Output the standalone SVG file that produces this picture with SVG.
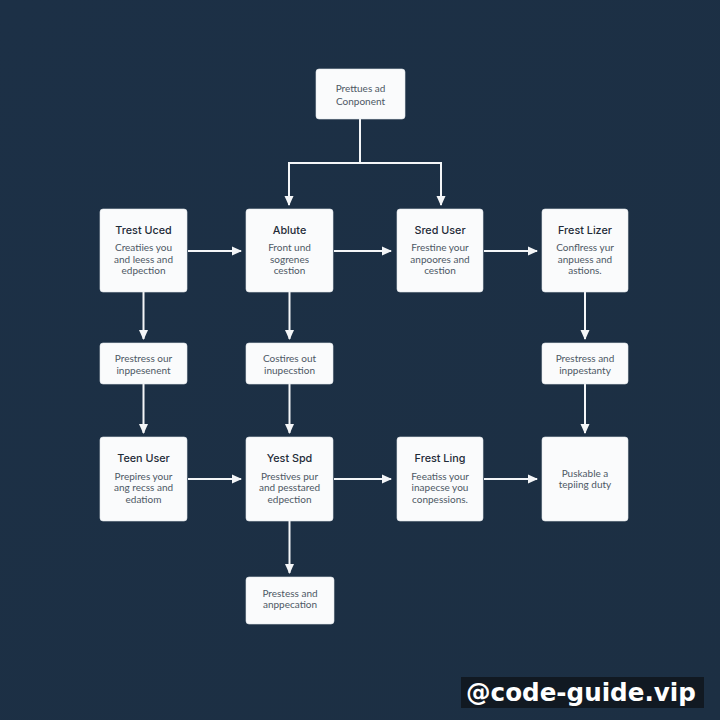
<svg xmlns="http://www.w3.org/2000/svg" width="720" height="720" viewBox="0 0 720 720">
<defs>
<linearGradient id="bg" x1="0" y1="0" x2="1" y2="1">
<stop offset="0" stop-color="#1c3046"/>
<stop offset="1" stop-color="#1c2f43"/>
</linearGradient>
<marker id="ah" markerUnits="userSpaceOnUse" markerWidth="10" markerHeight="10" viewBox="0 0 10 10" refX="9" refY="5" orient="auto">
<path d="M0,0.5 L10,5 L0,9.5 Z" fill="#f4f6f8"/>
</marker>
<style>
.box{fill:#fafbfc;stroke:#e3e7eb;stroke-width:0.6}
.t{font-family:Inter,Lato,"Liberation Sans",sans-serif;font-size:10.8px;font-weight:500;fill:#1f2b38;text-anchor:middle}
.b{font-family:Lato,"Open Sans","Liberation Sans",sans-serif;font-size:10px;fill:#4d5864;text-anchor:middle}
.c{fill:none;stroke:#f4f6f8;stroke-width:2;marker-end:url(#ah)}
.cl{fill:none;stroke:#f4f6f8;stroke-width:2}
.wm{font-family:"DejaVu Sans",sans-serif;font-weight:bold;font-size:24.6px;fill:#ffffff}
</style>
</defs>
<rect width="720" height="720" fill="url(#bg)"/>

<g id="connectors">
<path class="cl" d="M360,119 V163 M289,163 H442"/>
<path class="c" d="M289,162 V205"/>
<path class="c" d="M441,162 V205"/>
<path class="c" d="M188,251 H241"/>
<path class="c" d="M334,251 H391"/>
<path class="c" d="M484,251 H537"/>
<path class="c" d="M143.5,292 V339"/>
<path class="c" d="M289.5,292 V339"/>
<path class="c" d="M585,292 V339"/>
<path class="c" d="M143.5,384 V433"/>
<path class="c" d="M289.5,384 V433"/>
<path class="c" d="M585,384 V433"/>
<path class="c" d="M188,479 H241"/>
<path class="c" d="M334,479 H391"/>
<path class="c" d="M484,479 H537"/>
<path class="c" d="M289.5,521 V573"/>
</g>

<g id="n0">
<rect class="box" x="316" y="69" width="89" height="50" rx="3"/>
<text class="b" x="360.5" y="91.5">Prettues ad</text>
<text class="b" x="360.5" y="104.5">Conponent</text>
</g>

<g id="n1">
<rect class="box" x="100" y="209" width="87" height="83" rx="3"/>
<text class="t" x="143.5" y="234">Trest Uced</text>
<text class="b" x="143.5" y="250.5">Creatiies you</text>
<text class="b" x="143.5" y="262.5">and leess and</text>
<text class="b" x="143.5" y="274">edpection</text>
</g>

<g id="n2">
<rect class="box" x="246" y="209" width="87" height="83" rx="3"/>
<text class="t" x="289.5" y="234">Ablute</text>
<text class="b" x="289.5" y="250.5">Front und</text>
<text class="b" x="289.5" y="262.5">sogrenes</text>
<text class="b" x="289.5" y="274">cestion</text>
</g>

<g id="n3">
<rect class="box" x="397" y="209" width="86" height="83" rx="3"/>
<text class="t" x="440" y="234">Sred User</text>
<text class="b" x="440" y="250.5">Frestine your</text>
<text class="b" x="440" y="262.5">anpoores and</text>
<text class="b" x="440" y="274">cestion</text>
</g>

<g id="n4">
<rect class="box" x="542" y="209" width="86" height="83" rx="3"/>
<text class="t" x="585" y="234">Frest Lizer</text>
<text class="b" x="585" y="250.5">Conflress yur</text>
<text class="b" x="585" y="262.5">anpuess and</text>
<text class="b" x="585" y="274">astions.</text>
</g>

<g id="s1">
<rect class="box" x="100" y="343" width="87" height="41" rx="3"/>
<text class="b" x="143.5" y="361.5">Prestress our</text>
<text class="b" x="143.5" y="373.5">inppesenent</text>
</g>

<g id="s2">
<rect class="box" x="246" y="343" width="87" height="41" rx="3"/>
<text class="b" x="289.5" y="361.5">Costires out</text>
<text class="b" x="289.5" y="373.5">inupecstion</text>
</g>

<g id="s4">
<rect class="box" x="542" y="343" width="86" height="41" rx="3"/>
<text class="b" x="585" y="361.5">Prestress and</text>
<text class="b" x="585" y="373.5">inppestanty</text>
</g>

<g id="n5">
<rect class="box" x="100" y="437" width="87" height="84" rx="3"/>
<text class="t" x="143.5" y="462">Teen User</text>
<text class="b" x="143.5" y="479.5">Prepires your</text>
<text class="b" x="143.5" y="491">ang recss and</text>
<text class="b" x="143.5" y="502.5">edatiom</text>
</g>

<g id="n6">
<rect class="box" x="246" y="437" width="87" height="84" rx="3"/>
<text class="t" x="289.5" y="462">Yest Spd</text>
<text class="b" x="289.5" y="479.5">Prestives pur</text>
<text class="b" x="289.5" y="491">and pesstared</text>
<text class="b" x="289.5" y="502.5">edpection</text>
</g>

<g id="n7">
<rect class="box" x="397" y="437" width="86" height="84" rx="3"/>
<text class="t" x="440" y="462">Frest Ling</text>
<text class="b" x="440" y="479.5">Feeatiss your</text>
<text class="b" x="440" y="491">inapecse you</text>
<text class="b" x="440" y="502.5">conpessions.</text>
</g>

<g id="n8">
<rect class="box" x="542" y="437" width="86" height="84" rx="3"/>
<text class="b" x="585" y="476.5">Puskable a</text>
<text class="b" x="585" y="488">tepiing duty</text>
</g>

<g id="s6">
<rect class="box" x="246" y="577" width="88" height="47" rx="3"/>
<text class="b" x="290" y="596.5">Prestess and</text>
<text class="b" x="290" y="608">anppecation</text>
</g>

<g id="watermark">
<rect x="461" y="677" width="243" height="31" fill="#111922"/>
<text class="wm" x="466" y="701">@code-guide.vip</text>
</g>
</svg>
